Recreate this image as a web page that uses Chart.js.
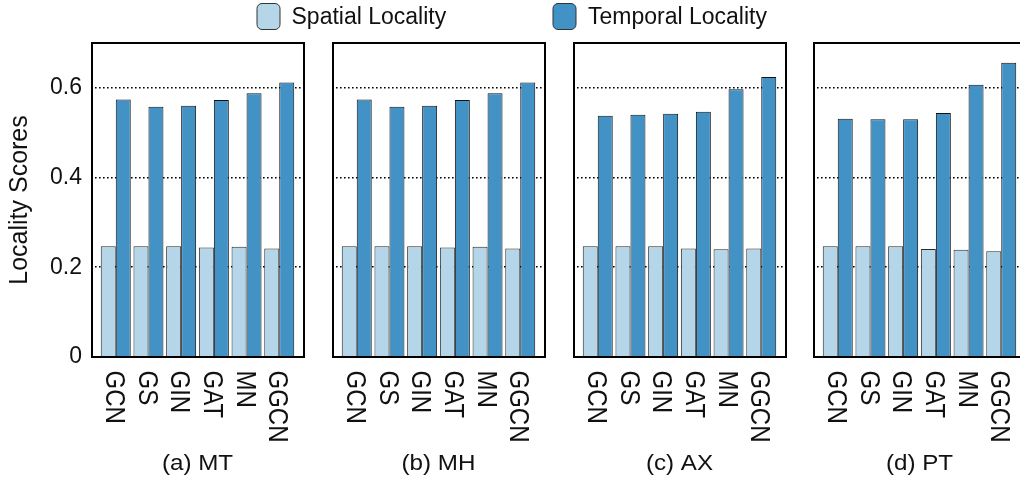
<!DOCTYPE html>
<html>
<head>
<meta charset="utf-8">
<script src="https://cdn.jsdelivr.net/npm/chart.js@4/dist/chart.umd.min.js"></script>
<style>
  html, body { margin: 0; padding: 0; background: #fff; overflow: hidden; }
  #stage { position: relative; width: 1020px; height: 486px; overflow: hidden; }
  #stage canvas { position: absolute; left: 0; top: 0; }
</style>
</head>
<body>
<div id="stage">
  <canvas id="c0" width="1040" height="486"></canvas>
  <canvas id="c1" width="1040" height="486"></canvas>
  <canvas id="c2" width="1040" height="486"></canvas>
  <canvas id="c3" width="1040" height="486"></canvas>
</div>
<script>
// GNN models on the x axis
const models = ['GCN', 'GS', 'GIN', 'GAT', 'MN', 'GGCN'];
const panelTitles = ['(a) MT', '(b) MH', '(c) AX', '(d) PT'];
const seriesNames = ['Spatial Locality', 'Temporal Locality'];
const yTicks = [0, 0.2, 0.4, 0.6];

// locality scores per dataset
const spatialMT  = [0.247, 0.247, 0.247, 0.244, 0.246, 0.242];
const temporalMT = [0.574, 0.558, 0.560, 0.573, 0.588, 0.612];
const spatialMH  = [0.247, 0.247, 0.247, 0.244, 0.246, 0.242];
const temporalMH = [0.574, 0.558, 0.560, 0.573, 0.588, 0.612];
const spatialAX  = [0.247, 0.247, 0.247, 0.242, 0.240, 0.242];
const temporalAX = [0.538, 0.540, 0.542, 0.547, 0.597, 0.624];
const spatialPT  = [0.247, 0.247, 0.247, 0.241, 0.239, 0.236];
const temporalPT = [0.531, 0.530, 0.530, 0.544, 0.607, 0.656];

const panels = [
  { spatial: spatialMT, temporal: temporalMT },
  { spatial: spatialMH, temporal: temporalMH },
  { spatial: spatialAX, temporal: temporalAX },
  { spatial: spatialPT, temporal: temporalPT }
];

const LIGHT = '#b4d6e8';
const DARK = '#4292c6';
const INK = '#111111';
const FONT = "'Liberation Sans', Arial, Helvetica, sans-serif";
Chart.defaults.font.family = FONT;
Chart.defaults.color = INK;

const CANVAS_W = 1040;
const AXIS_W = 91;        // room for the y axis
const PLOT_W = 213;       // width of each framed plot
const PLOT_LEFT = [91, 332, 573, 813];

// black frame around each plot area
const framePlugin = {
  id: 'frame',
  afterDatasetsDraw(chart) {
    const { ctx, chartArea: a } = chart;
    ctx.save();
    ctx.strokeStyle = '#000';
    ctx.lineWidth = 2;
    ctx.strokeRect(a.left + 1, a.top, a.right - a.left - 1, a.bottom - a.top);
    ctx.restore();
  }
};

// vertical model names and the panel caption
const labelPlugin = {
  id: 'panelLabels',
  afterDraw(chart, args, opts) {
    const { ctx, chartArea: a } = chart;
    const xs = chart.scales.x;
    const size = 24, across = 1.15;
    const cap = 0.716 * size;
    ctx.save();
    ctx.fillStyle = INK;
    ctx.font = size + 'px ' + FONT;
    ctx.textAlign = 'left';
    ctx.textBaseline = 'alphabetic';
    models.forEach((m, k) => {
      const cx = xs.getPixelForValue(k);
      ctx.save();
      ctx.translate(cx, 370.5);
      ctx.rotate(Math.PI / 2);
      ctx.scale(1, across);
      ctx.fillText(m, 0, cap / 2);
      ctx.restore();
    });
    // caption
    ctx.save();
    ctx.font = '22px ' + FONT;
    ctx.textAlign = 'center';
    ctx.translate((a.left + a.right) / 2, 470);
    ctx.scale(1.1, 1);
    ctx.fillText(opts.caption, 0, 0);
    ctx.restore();
    ctx.restore();
  }
};

// shared legend across the top
const legendPlugin = {
  id: 'topLegend',
  afterDraw(chart) {
    const { ctx } = chart;
    const items = [
      { x: 257, tx: 291.5, color: LIGHT, text: seriesNames[0] },
      { x: 553, tx: 588, color: DARK, text: seriesNames[1] }
    ];
    ctx.save();
    ctx.font = '23px ' + FONT;
    ctx.textBaseline = 'alphabetic';
    ctx.textAlign = 'left';
    items.forEach(it => {
      ctx.beginPath();
      ctx.roundRect(it.x, 3.5, 23, 26, 5);
      ctx.fillStyle = it.color;
      ctx.fill();
      ctx.lineWidth = 1;
      ctx.strokeStyle = '#333';
      ctx.stroke();
      ctx.fillStyle = INK;
      ctx.fillText(it.text, it.tx, 24);
    });
    ctx.restore();
  }
};

panels.forEach((p, i) => {
  const left = PLOT_LEFT[i];
  const plugins = [framePlugin, labelPlugin];
  if (i === 0) plugins.push(legendPlugin);
  new Chart(document.getElementById('c' + i), {
    type: 'bar',
    data: {
      datasets: [
        {
          label: seriesNames[0],
          data: p.spatial.map((v, k) => ({ x: k, y: v })),
          backgroundColor: LIGHT,
          borderColor: '#2a2a2a',
          borderWidth: 1
        },
        {
          label: seriesNames[1],
          data: p.temporal.map((v, k) => ({ x: k, y: v })),
          backgroundColor: DARK,
          borderColor: '#111',
          borderWidth: 1
        }
      ]
    },
    options: {
      responsive: false,
      animation: false,
      events: [],
      layout: {
        padding: { left: left - AXIS_W, right: CANVAS_W - (left + PLOT_W), top: 43, bottom: 0 }
      },
      datasets: { bar: { categoryPercentage: 0.917, barPercentage: 1 } },
      plugins: {
        legend: { display: false },
        tooltip: { enabled: false },
        panelLabels: { caption: panelTitles[i] }
      },
      scales: {
        x: {
          type: 'linear',
          offset: false,
          bounds: 'data',
          min: -0.757,
          max: models.length - 1 + 0.757,
          grid: { display: false, offset: false },
          border: { display: false },
          ticks: { display: false },
          afterBuildTicks: s => { s.ticks = models.map((_, k) => ({ value: k })); },
          afterFit: s => { s.height = 129; }
        },
        y: {
          min: 0,
          max: 0.7,
          bounds: 'data',
          afterBuildTicks: s => { s.ticks = yTicks.map(v => ({ value: v })); },
          afterFit: s => { s.width = AXIS_W; },
          grid: { color: '#000', lineWidth: 1.6, drawTicks: false },
          border: { display: false, dash: [1.6, 2.4] },
          ticks: {
            display: i === 0,
            padding: 9,
            font: { size: 23 },
            color: INK,
            callback: v => (v === 0 ? '0' : v.toFixed(1))
          },
          title: {
            display: i === 0,
            text: 'Locality Scores',
            font: { size: 25 },
            color: INK,
            padding: { top: 5, bottom: 0 }
          }
        }
      }
    },
    plugins: plugins
  });
});
</script>
</body>
</html>
